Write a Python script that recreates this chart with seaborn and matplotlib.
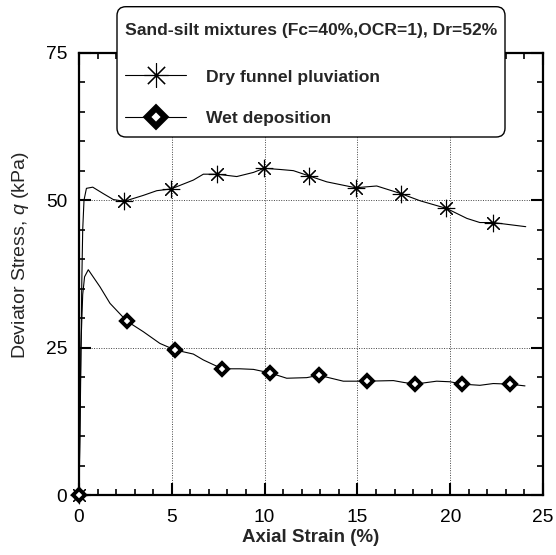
import matplotlib
matplotlib.use("Agg")
import matplotlib.pyplot as plt
from matplotlib.lines import Line2D
from matplotlib.patches import FancyBboxPatch
from matplotlib.ticker import MultipleLocator
import seaborn as sns
import pandas as pd

# Dry funnel pluviation: stress-strain curve
dry_strain = [0, 0.05, 0.1, 0.15, 0.2, 0.27, 0.4, 0.74, 1.31, 1.85, 2.44, 3.46, 4.19,
              4.96, 6.16, 6.7, 7.42, 8.5, 9.4, 9.97, 10.83, 11.55, 12.4, 13.35, 14.9,
              16.04, 17.35, 18.37, 19.8, 20.9, 21.6, 22.3, 24.07]
dry_stress = [0, 10, 22, 36, 45, 50, 52, 52.2, 51.1, 50.1, 49.8, 50.8, 51.6,
              51.9, 53.4, 54.4, 54.4, 54.0, 54.7, 55.4, 55.2, 55.0, 54.1, 53.1, 52.1,
              52.4, 51.1, 49.9, 48.6, 46.9, 46.2, 46.2, 45.5]
dry_mark_strain = [0, 2.44, 4.96, 7.42, 9.97, 12.4, 14.9, 17.35, 19.8, 22.3]
dry_mark_stress = [0, 49.8, 51.9, 54.4, 55.4, 54.1, 52.1, 51.1, 48.6, 46.2]

# Wet deposition: stress-strain curve
wet_strain = [0, 0.05, 0.1, 0.2, 0.3, 0.5, 1.13, 1.67, 2.57, 3.46, 4.36, 5.17, 6.16,
              6.7, 7.72, 8.67, 9.4, 10.29, 11.19, 12.27, 12.93, 14.24, 15.5, 16.94,
              17.47, 18.09, 19.27, 19.99, 20.65, 21.6, 22.32, 23.2, 24.03]
wet_stress = [0, 12, 25, 34, 37, 38.2, 35.3, 32.5, 29.5, 27.7, 25.7, 24.6, 23.9,
              22.9, 21.4, 21.4, 21.3, 20.7, 19.8, 19.9, 20.3, 19.3, 19.3, 19.4,
              19.1, 18.8, 19.3, 19.2, 18.8, 18.6, 18.9, 18.8, 18.5]
wet_mark_strain = [0, 2.57, 5.17, 7.72, 10.29, 12.93, 15.5, 18.09, 20.65, 23.2]
wet_mark_stress = [0, 29.5, 24.6, 21.4, 20.7, 20.3, 19.3, 18.8, 18.8, 18.8]

x_ticks = [0, 5, 10, 15, 20, 25]
y_ticks = [0, 25, 50, 75]

legend_title = "Sand-silt mixtures (Fc=40%,OCR=1), Dr=52%"
label_dry = "Dry funnel pluviation"
label_wet = "Wet deposition"

sns.set_theme(style="ticks")
plt.rcParams["font.family"] = ["Liberation Sans", "DejaVu Sans"]
plt.rcParams["mathtext.fontset"] = "custom"
plt.rcParams["mathtext.it"] = "Liberation Sans:italic"
plt.rcParams["mathtext.rm"] = "Liberation Sans"

W, H = 556, 555
fig = plt.figure(figsize=(W / 100, H / 100), dpi=100)
ax = fig.add_axes([79 / W, 1 - 495 / H, (543 - 79) / W, (495 - 52.7) / H])

dry = pd.DataFrame({"strain": dry_strain, "stress": dry_stress})
wet = pd.DataFrame({"strain": wet_strain, "stress": wet_stress})

sns.lineplot(data=dry, x="strain", y="stress", sort=False, estimator=None,
             color="black", lw=0.8, ax=ax, zorder=3)
sns.lineplot(data=wet, x="strain", y="stress", sort=False, estimator=None,
             color="black", lw=0.8, ax=ax, zorder=3)

star = (8, 2, 0)
ax.plot(dry_mark_strain, dry_mark_stress, ls="none", marker=star, ms=12.5,
        mec="black", mew=0.8, zorder=4, clip_on=False)
ax.plot(wet_mark_strain, wet_mark_stress, ls="none", marker="D", ms=6,
        mfc="white", mec="black", mew=2.8, zorder=4, clip_on=False)

ax.set_xlim(0, 25)
ax.set_ylim(0, 75)
ax.set_xticks(x_ticks)
ax.set_yticks(y_ticks)
ax.xaxis.set_minor_locator(MultipleLocator(1))
ax.yaxis.set_minor_locator(MultipleLocator(5))
ax.tick_params(which="both", direction="in", top=True, right=True, colors="black")
ax.tick_params(which="major", length=8.5, width=1.5, labelsize=13.8)
ax.tick_params(which="minor", length=4.3, width=1.2)
ax.tick_params(axis="x", which="major", pad=10)
ax.tick_params(axis="y", which="major", pad=8.5)
for s in ax.spines.values():
    s.set_linewidth(1.6)
    s.set_color("black")

ax.grid(True, which="major", ls=(0, (1, 1.5)), lw=0.7, color="#444444")

ax.set_xlabel("Axial Strain (%)", fontsize=13.5, fontweight="bold")
ax.set_ylabel("Deviator Stress, $q$ (kPa)", fontsize=14)
ax.xaxis.set_label_coords(0.5, (495 - 529) / 442.3)
ax.yaxis.set_label_coords((31 - 79) / 464, (495 - 255) / 442.3)

# Rounded legend frame, drawn as a figure patch behind the legend entries
box_l, box_t, box_r, box_b = 117, 6.7, 505, 137
frame = FancyBboxPatch((box_l / W, 1 - box_b / H), (box_r - box_l) / W, (box_b - box_t) / H,
                       boxstyle="round,pad=0,rounding_size=0.016",
                       transform=fig.transFigure, facecolor="white",
                       edgecolor="black", linewidth=1.0, zorder=4,
                       mutation_aspect=W / H)
fig.patches.append(frame)

handles = [
    Line2D([], [], color="black", lw=0.8, marker=star, ms=17.5, mew=0.8),
    Line2D([], [], color="black", lw=0.8, marker="D", ms=9.5, mfc="white", mew=4.5),
]
leg = fig.legend(handles, [label_dry, label_wet], title=legend_title,
                 loc="upper left", bbox_to_anchor=(117 / W, 1 - 15.5 / H),
                 borderaxespad=0, frameon=False,
                 prop={"size": 12.6, "weight": "bold"},
                 title_fontproperties={"size": 12.6, "weight": "bold"},
                 handlelength=3.5, handletextpad=1.15, labelspacing=1.49,
                 borderpad=0.45, alignment="left")
leg.set_zorder(5)
leg._legend_box.sep = 22.3

fig.savefig("out.png", dpi=100)
